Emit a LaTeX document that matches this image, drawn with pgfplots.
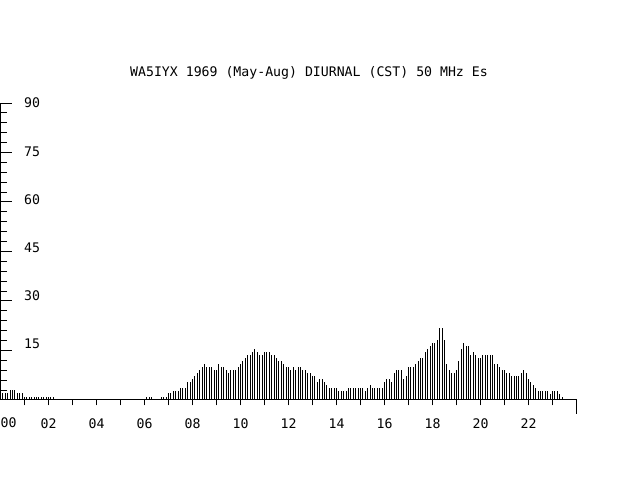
\documentclass[border=0pt]{standalone}
\usepackage{pgfplots}
\pgfplotsset{compat=1.18}
\usepackage{pgfplotstable}
\usepackage{fontspec}
\newfontfamily\pixfont{DejaVu Sans Mono}
\newcommand{\pf}{\pixfont\fontsize{13.2bp}{15bp}\selectfont}

\pgfplotstableread{
t v
0.1 2
0.2 2
0.3 2
0.4 3
0.5 3
0.6 3
0.7 2
0.8 2
0.9 2
1.0 1
1.1 1
1.2 1
1.3 1
1.4 1
1.5 1
1.6 1
1.7 1
1.8 1
1.9 1
2.0 1
2.1 1
2.2 1
6.1 1
6.2 1
6.3 1
6.7 1
6.8 1
6.9 1
7.0 2
7.1 2
7.2 2.7
7.3 2.7
7.4 2.7
7.5 3.6
7.6 3.6
7.7 3.6
7.8 5.5
7.9 5.5
8.0 6.4
8.1 7.3
8.2 8.2
8.3 9.1
8.4 10
8.5 10.9
8.6 10
8.7 10
8.8 10
8.9 9.1
9.0 9.1
9.1 10.9
9.2 10
9.3 10
9.4 9.1
9.5 8.2
9.6 9.1
9.7 9.1
9.8 9.1
9.9 10
10.0 10.9
10.1 11.8
10.2 12.7
10.3 13.6
10.4 13.6
10.5 14.5
10.6 15.5
10.7 14.5
10.8 13.6
10.9 13.6
11.0 14.5
11.1 14.5
11.2 14.5
11.3 13.6
11.4 13.6
11.5 12.7
11.6 11.8
11.7 11.8
11.8 10.9
11.9 10
12.0 10
12.1 9.1
12.2 10
12.3 9.1
12.4 10
12.5 10
12.6 9.1
12.7 9.1
12.8 8.2
12.9 8.2
13.0 7.3
13.1 7.3
13.2 5.5
13.3 6.4
13.4 6.4
13.5 5.5
13.6 4.5
13.7 3.6
13.8 3.6
13.9 3.6
14.0 3.6
14.1 2.7
14.2 2.7
14.3 2.7
14.4 2.7
14.5 3.6
14.6 3.6
14.7 3.6
14.8 3.6
14.9 3.6
15.0 3.6
15.1 3.6
15.2 2.7
15.3 3.6
15.4 4.5
15.5 3.6
15.6 3.6
15.7 3.6
15.8 3.6
15.9 3.6
16.0 5.5
16.1 6.4
16.2 6.4
16.3 5.5
16.4 8.2
16.5 9.1
16.6 9.1
16.7 9.1
16.8 6.4
16.9 7.3
17.0 10
17.1 10
17.2 10
17.3 10.9
17.4 11.8
17.5 12.7
17.6 12.7
17.7 14.5
17.8 15.5
17.9 16.4
18.0 17.3
18.1 17.3
18.2 18.2
18.3 21.8
18.4 21.8
18.5 18.2
18.6 10.9
18.7 9.1
18.8 8.2
18.9 8.2
19.0 9.1
19.1 11.8
19.2 15.5
19.3 17.3
19.4 16.4
19.5 16.4
19.6 13.6
19.7 14.5
19.8 13.6
19.9 12.7
20.0 12.7
20.1 13.6
20.2 13.6
20.3 13.6
20.4 13.6
20.5 13.6
20.6 10.9
20.7 10.9
20.8 10
20.9 9.1
21.0 9.1
21.1 8.2
21.2 8.2
21.3 7.3
21.4 7.3
21.5 7.3
21.6 7.3
21.7 8.2
21.8 9.1
21.9 8.2
22.0 6.4
22.1 5.5
22.2 4.5
22.3 3.6
22.4 2.7
22.5 2.7
22.6 2.7
22.7 2.7
22.8 2.7
22.9 1.8
23.0 2.7
23.1 2.7
23.2 2.7
23.3 1.8
23.4 0.9
}\diurnal

\begin{document}
\begin{tikzpicture}[x=1bp,y=1bp]
\useasboundingbox (0,0) rectangle (640,480);
\fill[white] (0,0) rectangle (640,480);
\node[font=\pf, anchor=base, inner sep=0pt] at (309,403) {WA5IYX 1969 (May-Aug) DIURNAL (CST) 50 MHz Es};
\begin{axis}[
  at={(0.5bp,80bp)}, anchor=south west,
  scale only axis, width=576bp, height=297bp,
  xmin=0, xmax=24, ymin=0, ymax=90,
  axis x line*=bottom, axis y line*=left,
  axis line style={line width=1bp, black},
  tick style={line width=1bp, black},
  xtick={1,2,...,23},
  xticklabels={,02,,04,,06,,08,,10,,12,,14,,16,,18,,20,,22,},
  xtick align=outside,
  xtick style={/pgfplots/major tick length=5.5bp},
  xticklabel style={font=\pf, anchor=base, inner sep=0pt, yshift=-18bp},
  ytick={15,30,...,90}, yticklabels={},
  minor ytick={3,6,...,87},
  ytick align=inside,
  major tick length=11bp, minor tick length=6.5bp,
  extra y ticks={17.0,31.6,46.1,60.8,75.3,90},
  extra y tick labels={15,30,45,60,75,90},
  extra y tick style={ytick style={draw=none}, yticklabel style={font=\pf, anchor=west, inner sep=0pt, xshift=23.5bp}},
  clip=false,
]
\addplot[ycomb, black, line width=1bp] table[x=t, y=v] {\diurnal};
\draw[line width=1bp, black] (axis cs:24,0) -- ++(0,-14bp);
\end{axis}
\node[font=\pf, anchor=base west, inner sep=0pt] at (0.5,52) {00};
\end{tikzpicture}
\end{document}
